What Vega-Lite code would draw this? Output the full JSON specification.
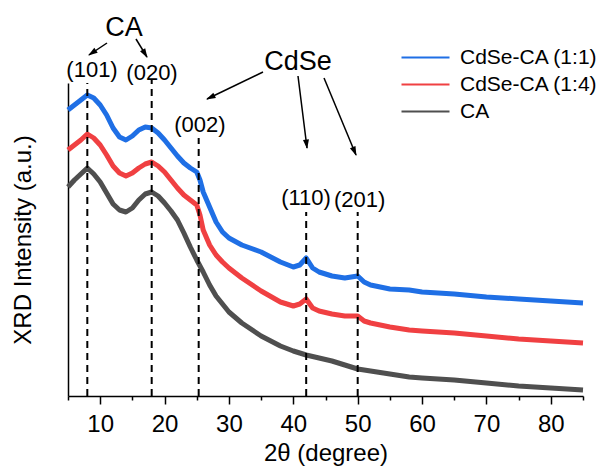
{
  "$schema": "https://vega.github.io/schema/vega-lite/v6.json",
  "autosize": {"type": "none"},
  "padding": {"left": 68, "top": 83, "right": 16, "bottom": 72},
  "width": 515,
  "height": 313,
  "config": {
    "font": "Liberation Sans",
    "view": {"stroke": null},
    "axis": {"grid": false, "domainColor": "#000", "tickColor": "#000", "labelColor": "#000", "titleColor": "#000", "titleFontWeight": "normal"}
  },
  "datasets": {
    "xrd": [
      {"sample": "CdSe-CA (1:1)", "theta": 5, "intensity": 286},
      {"sample": "CdSe-CA (1:1)", "theta": 6, "intensity": 291},
      {"sample": "CdSe-CA (1:1)", "theta": 7, "intensity": 296},
      {"sample": "CdSe-CA (1:1)", "theta": 8, "intensity": 301},
      {"sample": "CdSe-CA (1:1)", "theta": 9, "intensity": 298},
      {"sample": "CdSe-CA (1:1)", "theta": 10, "intensity": 291},
      {"sample": "CdSe-CA (1:1)", "theta": 11, "intensity": 281},
      {"sample": "CdSe-CA (1:1)", "theta": 12, "intensity": 268},
      {"sample": "CdSe-CA (1:1)", "theta": 13, "intensity": 259},
      {"sample": "CdSe-CA (1:1)", "theta": 14, "intensity": 256},
      {"sample": "CdSe-CA (1:1)", "theta": 15, "intensity": 260},
      {"sample": "CdSe-CA (1:1)", "theta": 16, "intensity": 266},
      {"sample": "CdSe-CA (1:1)", "theta": 17, "intensity": 269},
      {"sample": "CdSe-CA (1:1)", "theta": 18, "intensity": 268},
      {"sample": "CdSe-CA (1:1)", "theta": 19, "intensity": 263},
      {"sample": "CdSe-CA (1:1)", "theta": 20, "intensity": 256},
      {"sample": "CdSe-CA (1:1)", "theta": 21, "intensity": 248},
      {"sample": "CdSe-CA (1:1)", "theta": 22, "intensity": 240},
      {"sample": "CdSe-CA (1:1)", "theta": 23, "intensity": 233},
      {"sample": "CdSe-CA (1:1)", "theta": 24, "intensity": 228},
      {"sample": "CdSe-CA (1:1)", "theta": 25, "intensity": 224},
      {"sample": "CdSe-CA (1:1)", "theta": 25.5, "intensity": 216},
      {"sample": "CdSe-CA (1:1)", "theta": 26, "intensity": 204},
      {"sample": "CdSe-CA (1:1)", "theta": 27, "intensity": 189},
      {"sample": "CdSe-CA (1:1)", "theta": 28, "intensity": 174},
      {"sample": "CdSe-CA (1:1)", "theta": 29, "intensity": 164},
      {"sample": "CdSe-CA (1:1)", "theta": 30, "intensity": 158},
      {"sample": "CdSe-CA (1:1)", "theta": 32, "intensity": 151},
      {"sample": "CdSe-CA (1:1)", "theta": 35, "intensity": 144},
      {"sample": "CdSe-CA (1:1)", "theta": 38, "intensity": 134},
      {"sample": "CdSe-CA (1:1)", "theta": 40, "intensity": 129},
      {"sample": "CdSe-CA (1:1)", "theta": 41, "intensity": 131},
      {"sample": "CdSe-CA (1:1)", "theta": 42, "intensity": 138},
      {"sample": "CdSe-CA (1:1)", "theta": 43, "intensity": 128},
      {"sample": "CdSe-CA (1:1)", "theta": 44, "intensity": 124},
      {"sample": "CdSe-CA (1:1)", "theta": 46, "intensity": 120},
      {"sample": "CdSe-CA (1:1)", "theta": 48, "intensity": 118},
      {"sample": "CdSe-CA (1:1)", "theta": 50, "intensity": 120},
      {"sample": "CdSe-CA (1:1)", "theta": 51, "intensity": 114},
      {"sample": "CdSe-CA (1:1)", "theta": 52, "intensity": 111},
      {"sample": "CdSe-CA (1:1)", "theta": 55, "intensity": 107},
      {"sample": "CdSe-CA (1:1)", "theta": 58, "intensity": 106},
      {"sample": "CdSe-CA (1:1)", "theta": 60, "intensity": 104},
      {"sample": "CdSe-CA (1:1)", "theta": 65, "intensity": 102},
      {"sample": "CdSe-CA (1:1)", "theta": 70, "intensity": 99},
      {"sample": "CdSe-CA (1:1)", "theta": 75, "intensity": 97},
      {"sample": "CdSe-CA (1:1)", "theta": 80, "intensity": 95},
      {"sample": "CdSe-CA (1:1)", "theta": 85, "intensity": 93},
      {"sample": "CdSe-CA (1:4)", "theta": 5, "intensity": 246},
      {"sample": "CdSe-CA (1:4)", "theta": 6, "intensity": 251},
      {"sample": "CdSe-CA (1:4)", "theta": 7, "intensity": 256},
      {"sample": "CdSe-CA (1:4)", "theta": 8, "intensity": 262},
      {"sample": "CdSe-CA (1:4)", "theta": 9, "intensity": 258},
      {"sample": "CdSe-CA (1:4)", "theta": 10, "intensity": 251},
      {"sample": "CdSe-CA (1:4)", "theta": 11, "intensity": 241},
      {"sample": "CdSe-CA (1:4)", "theta": 12, "intensity": 230},
      {"sample": "CdSe-CA (1:4)", "theta": 13, "intensity": 223},
      {"sample": "CdSe-CA (1:4)", "theta": 14, "intensity": 220},
      {"sample": "CdSe-CA (1:4)", "theta": 15, "intensity": 223},
      {"sample": "CdSe-CA (1:4)", "theta": 16, "intensity": 228},
      {"sample": "CdSe-CA (1:4)", "theta": 17, "intensity": 232},
      {"sample": "CdSe-CA (1:4)", "theta": 18, "intensity": 234},
      {"sample": "CdSe-CA (1:4)", "theta": 19, "intensity": 230},
      {"sample": "CdSe-CA (1:4)", "theta": 20, "intensity": 224},
      {"sample": "CdSe-CA (1:4)", "theta": 21, "intensity": 216},
      {"sample": "CdSe-CA (1:4)", "theta": 22, "intensity": 208},
      {"sample": "CdSe-CA (1:4)", "theta": 23, "intensity": 201},
      {"sample": "CdSe-CA (1:4)", "theta": 24, "intensity": 196},
      {"sample": "CdSe-CA (1:4)", "theta": 25, "intensity": 191},
      {"sample": "CdSe-CA (1:4)", "theta": 25.5, "intensity": 181},
      {"sample": "CdSe-CA (1:4)", "theta": 26, "intensity": 166},
      {"sample": "CdSe-CA (1:4)", "theta": 27, "intensity": 151},
      {"sample": "CdSe-CA (1:4)", "theta": 28, "intensity": 141},
      {"sample": "CdSe-CA (1:4)", "theta": 29, "intensity": 134},
      {"sample": "CdSe-CA (1:4)", "theta": 30, "intensity": 128},
      {"sample": "CdSe-CA (1:4)", "theta": 32, "intensity": 118},
      {"sample": "CdSe-CA (1:4)", "theta": 35, "intensity": 105},
      {"sample": "CdSe-CA (1:4)", "theta": 38, "intensity": 94},
      {"sample": "CdSe-CA (1:4)", "theta": 40, "intensity": 90},
      {"sample": "CdSe-CA (1:4)", "theta": 41, "intensity": 92},
      {"sample": "CdSe-CA (1:4)", "theta": 42, "intensity": 97},
      {"sample": "CdSe-CA (1:4)", "theta": 43, "intensity": 88},
      {"sample": "CdSe-CA (1:4)", "theta": 44, "intensity": 85},
      {"sample": "CdSe-CA (1:4)", "theta": 46, "intensity": 82},
      {"sample": "CdSe-CA (1:4)", "theta": 48, "intensity": 80},
      {"sample": "CdSe-CA (1:4)", "theta": 50, "intensity": 80},
      {"sample": "CdSe-CA (1:4)", "theta": 51, "intensity": 75},
      {"sample": "CdSe-CA (1:4)", "theta": 52, "intensity": 73},
      {"sample": "CdSe-CA (1:4)", "theta": 55, "intensity": 69},
      {"sample": "CdSe-CA (1:4)", "theta": 58, "intensity": 66},
      {"sample": "CdSe-CA (1:4)", "theta": 60, "intensity": 65},
      {"sample": "CdSe-CA (1:4)", "theta": 65, "intensity": 63},
      {"sample": "CdSe-CA (1:4)", "theta": 70, "intensity": 60},
      {"sample": "CdSe-CA (1:4)", "theta": 75, "intensity": 57},
      {"sample": "CdSe-CA (1:4)", "theta": 80, "intensity": 55},
      {"sample": "CdSe-CA (1:4)", "theta": 85, "intensity": 53},
      {"sample": "CA", "theta": 5, "intensity": 209},
      {"sample": "CA", "theta": 6, "intensity": 216},
      {"sample": "CA", "theta": 7, "intensity": 222},
      {"sample": "CA", "theta": 8, "intensity": 228},
      {"sample": "CA", "theta": 9, "intensity": 222},
      {"sample": "CA", "theta": 10, "intensity": 214},
      {"sample": "CA", "theta": 11, "intensity": 203},
      {"sample": "CA", "theta": 12, "intensity": 192},
      {"sample": "CA", "theta": 13, "intensity": 186},
      {"sample": "CA", "theta": 14, "intensity": 184},
      {"sample": "CA", "theta": 15, "intensity": 188},
      {"sample": "CA", "theta": 16, "intensity": 196},
      {"sample": "CA", "theta": 17, "intensity": 202},
      {"sample": "CA", "theta": 18, "intensity": 204},
      {"sample": "CA", "theta": 19, "intensity": 200},
      {"sample": "CA", "theta": 20, "intensity": 193},
      {"sample": "CA", "theta": 21, "intensity": 185},
      {"sample": "CA", "theta": 22, "intensity": 176},
      {"sample": "CA", "theta": 23, "intensity": 163},
      {"sample": "CA", "theta": 24, "intensity": 149},
      {"sample": "CA", "theta": 25, "intensity": 136},
      {"sample": "CA", "theta": 26, "intensity": 124},
      {"sample": "CA", "theta": 27, "intensity": 111},
      {"sample": "CA", "theta": 28, "intensity": 100},
      {"sample": "CA", "theta": 29, "intensity": 92},
      {"sample": "CA", "theta": 30, "intensity": 84},
      {"sample": "CA", "theta": 32, "intensity": 73},
      {"sample": "CA", "theta": 35, "intensity": 60},
      {"sample": "CA", "theta": 38, "intensity": 50},
      {"sample": "CA", "theta": 40, "intensity": 45},
      {"sample": "CA", "theta": 42, "intensity": 41},
      {"sample": "CA", "theta": 44, "intensity": 38},
      {"sample": "CA", "theta": 46, "intensity": 35},
      {"sample": "CA", "theta": 48, "intensity": 31},
      {"sample": "CA", "theta": 50, "intensity": 27},
      {"sample": "CA", "theta": 52, "intensity": 25},
      {"sample": "CA", "theta": 55, "intensity": 22},
      {"sample": "CA", "theta": 58, "intensity": 19},
      {"sample": "CA", "theta": 60, "intensity": 18},
      {"sample": "CA", "theta": 65, "intensity": 16},
      {"sample": "CA", "theta": 70, "intensity": 13},
      {"sample": "CA", "theta": 75, "intensity": 10},
      {"sample": "CA", "theta": 80, "intensity": 8},
      {"sample": "CA", "theta": 85, "intensity": 6}
    ],
    "peaks": [
      {"plane": "(101)", "theta": 8, "base": 0, "intensity": 313, "labelTheta": 8.73, "labelIntensity": 326},
      {"plane": "(020)", "theta": 18, "base": 0, "intensity": 316, "labelTheta": 18.05, "labelIntensity": 323},
      {"plane": "(002)", "theta": 25.3, "base": 0, "intensity": 258, "labelTheta": 25.5, "labelIntensity": 271},
      {"plane": "(110)", "theta": 42, "base": 0, "intensity": 184, "labelTheta": 41.97, "labelIntensity": 198},
      {"plane": "(201)", "theta": 50, "base": 0, "intensity": 184, "labelTheta": 50.3, "labelIntensity": 196}
    ],
    "phases": [
      {"phase": "CA", "theta": 13.7, "intensity": 368},
      {"phase": "CdSe", "theta": 40.73, "intensity": 334}
    ],
    "arrows": [
      {"phase": "CA", "plane": "(101)", "theta": 11.06, "intensity": 353, "theta2": 8.26, "intensity2": 341, "headTheta": 8.77, "headIntensity": 343.2, "angle": 236},
      {"phase": "CA", "plane": "(020)", "theta": 15.56, "intensity": 357, "theta2": 17.27, "intensity2": 339, "headTheta": 16.95, "headIntensity": 342.4, "angle": 149},
      {"phase": "CdSe", "plane": "(002)", "theta": 35.29, "intensity": 324, "theta2": 26.59, "intensity2": 297, "headTheta": 27.15, "headIntensity": 298.7, "angle": 244},
      {"phase": "CdSe", "plane": "(110)", "theta": 40.73, "intensity": 320, "theta2": 42.13, "intensity2": 248, "headTheta": 42.05, "headIntensity": 252, "angle": 173},
      {"phase": "CdSe", "plane": "(201)", "theta": 44.77, "intensity": 318, "theta2": 49.74, "intensity2": 241, "headTheta": 49.5, "headIntensity": 244.7, "angle": 157}
    ]
  },
  "layer": [
    {
      "data": {"name": "xrd"},
      "mark": {"type": "line", "strokeWidth": 5, "strokeJoin": "round"},
      "encoding": {
        "x": {
          "field": "theta", "type": "quantitative",
          "scale": {"domain": [5, 85], "nice": false, "zero": false},
          "axis": {"orient": "bottom", "values": [10, 20, 30, 40, 50, 60, 70, 80], "tickSize": 8, "tickWidth": 1.5, "domainWidth": 1.5, "labelFontSize": 24, "labelPadding": 8, "title": "2θ (degree)", "titleFontSize": 24, "titlePadding": 5}
        },
        "y": {
          "field": "intensity", "type": "quantitative",
          "scale": {"domain": [0, 313], "nice": false, "zero": false},
          "axis": {"orient": "left", "ticks": false, "labels": false, "domainWidth": 1.5, "title": "XRD Intensity (a.u.)", "titleFontSize": 24, "titlePadding": 33}
        },
        "color": {
          "field": "sample", "type": "nominal",
          "scale": {"domain": ["CdSe-CA (1:1)", "CdSe-CA (1:4)", "CA"], "range": ["#1f6fe5", "#f04042", "#4f4f4f"]},
          "legend": {"orient": "none", "legendX": 347, "legendY": -36, "title": null, "padding": 0, "symbolType": "M-4,0H4", "symbolSize": 144, "symbolStrokeWidth": 2, "labelFontSize": 21, "labelOffset": 24, "rowPadding": 5, "labelColor": "#000"}
        }
      }
    },
    {
      "data": {"name": "peaks"},
      "mark": {"type": "rule", "color": "#000", "strokeWidth": 2, "strokeDash": [7, 5]},
      "encoding": {
        "x": {"field": "theta", "type": "quantitative", "axis": {"orient": "bottom", "values": [5, 15, 25, 35, 45, 55, 65, 75, 85], "labels": false, "domain": false, "tickSize": 4, "tickWidth": 1.5, "title": null}},
        "y": {"field": "base", "type": "quantitative"},
        "y2": {"field": "intensity"}
      }
    },
    {
      "data": {"name": "peaks"},
      "mark": {"type": "text", "fontSize": 22, "color": "#000", "align": "center", "baseline": "middle"},
      "encoding": {
        "x": {"field": "labelTheta", "type": "quantitative", "axis": null},
        "y": {"field": "labelIntensity", "type": "quantitative"},
        "text": {"field": "plane"}
      }
    },
    {
      "data": {"name": "phases"},
      "mark": {"type": "text", "fontSize": 27, "color": "#000", "align": "center", "baseline": "middle"},
      "encoding": {
        "x": {"field": "theta", "type": "quantitative", "axis": null},
        "y": {"field": "intensity", "type": "quantitative"},
        "text": {"field": "phase"}
      }
    },
    {
      "data": {"name": "arrows"},
      "mark": {"type": "rule", "color": "#000", "strokeWidth": 1.5},
      "encoding": {
        "x": {"field": "theta", "type": "quantitative", "axis": null},
        "y": {"field": "intensity", "type": "quantitative"},
        "x2": {"field": "theta2"},
        "y2": {"field": "intensity2"}
      }
    },
    {
      "data": {"name": "arrows"},
      "mark": {"type": "point", "shape": "M0,-1L0.6,0.9L-0.6,0.9Z", "filled": true, "color": "#000", "opacity": 1, "size": 100},
      "encoding": {
        "x": {"field": "headTheta", "type": "quantitative", "axis": null},
        "y": {"field": "headIntensity", "type": "quantitative"},
        "angle": {"field": "angle", "type": "quantitative", "scale": {"type": "linear", "domain": [0, 360], "range": [0, 360]}, "legend": null}
      }
    }
  ],
  "resolve": {"axis": {"x": "independent"}}
}
